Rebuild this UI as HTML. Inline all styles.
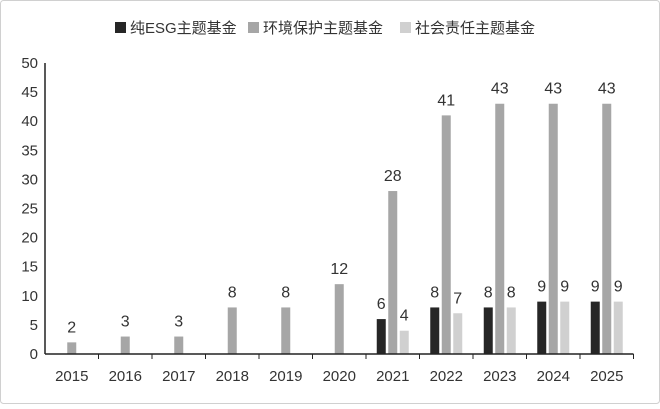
<!DOCTYPE html>
<html><head><meta charset="utf-8"><style>
body{margin:0;background:#fff;}
svg text{font-family:"Liberation Sans","Noto Sans CJK SC",sans-serif;fill:#333;}
</style></head><body>
<svg id="chart" width="660" height="404">
<rect x="0.5" y="0.5" width="659" height="403" rx="3" fill="#fff" stroke="#d0d0d0"/>
<g>
<rect x="115" y="22" width="11" height="11" fill="#262626"/>
<text x="130" y="33" font-size="15">纯ESG主题基金</text>
<rect x="248" y="22" width="11" height="11" fill="#a6a6a6"/>
<text x="263" y="33" font-size="15">环境保护主题基金</text>
<rect x="400" y="22" width="11" height="11" fill="#d0d0d0"/>
<text x="415" y="33" font-size="15">社会责任主题基金</text>
</g>
<g id="plot"></g>
</svg>
<script>
const years=["2015","2016","2017","2018","2019","2020","2021","2022","2023","2024","2025"];
const pureEsg=[null,null,null,null,null,null,6,8,8,9,9];
const environment=[2,3,3,8,8,12,28,41,43,43,43];
const social=[null,null,null,null,null,null,4,7,8,9,9];
const yTicks=[0,5,10,15,20,25,30,35,40,45,50];
const x0=45,catW=53.5,y0=354,yMax=50,plotH=291;
const ns="http://www.w3.org/2000/svg";
const g=document.getElementById("plot");
function y(v){return y0-v/yMax*plotH;}
function cx(i){return x0+catW*(i+0.5);}
function mk(tag,attrs,txt){const e=document.createElementNS(ns,tag);for(const k in attrs)e.setAttribute(k,attrs[k]);if(txt!=null)e.textContent=txt;g.appendChild(e);return e;}
yTicks.forEach(t=>{
 const e=mk("text",{x:38,y:y(t)+5,"font-size":15,"text-anchor":"end"},t);
 
 
});
const ya=mk("line",{x1:x0,y1:y(50),x2:x0,y2:y0,stroke:"#222","stroke-width":1.5});


const series=[[pureEsg,"#262626",-11.5,"pure-esg"],[environment,"#a6a6a6",0,"environment"],[social,"#d0d0d0",11.5,"social"]];
years.forEach((yr,i)=>{
 series.forEach(([arr,col,off,nm])=>{
  const v=arr[i]; if(v==null)return;
  const r=mk("rect",{x:cx(i)+off-4.5,y:y(v),width:9,height:y0-y(v),fill:col});
  
  
  const l=mk("text",{x:cx(i)+off,y:y(v)-10,"font-size":16,"text-anchor":"middle"},v);
  
  
 });
 const t=mk("text",{x:cx(i),y:381,"font-size":15,"text-anchor":"middle"},yr);
 
 
 const tk=mk("line",{x1:x0+catW*(i+1),y1:y0,x2:x0+catW*(i+1),y2:y0+5,stroke:"#222","stroke-width":1});
 
 
});
const xa=mk("line",{x1:x0,y1:y0,x2:x0+catW*years.length,y2:y0,stroke:"#222","stroke-width":1.5});


</script>
</body></html>
